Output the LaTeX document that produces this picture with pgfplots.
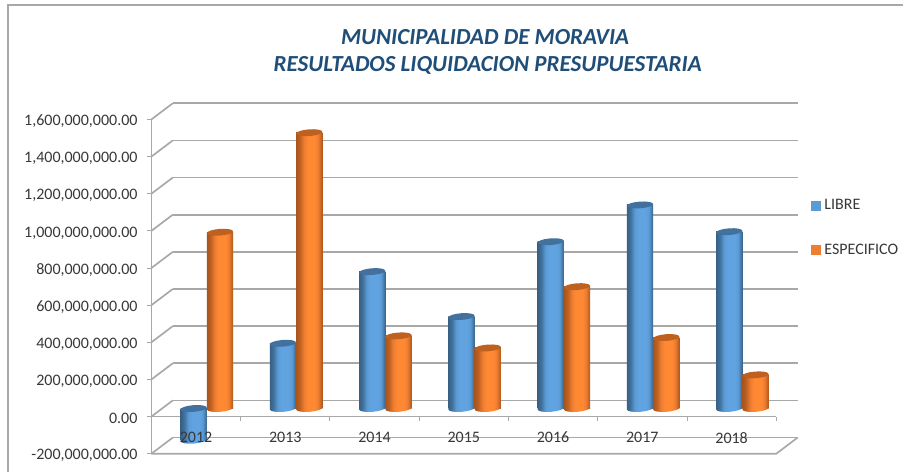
\documentclass[border=0pt]{standalone}
\usepackage{pgfplots}
\pgfplotsset{compat=1.18}
\usepackage{pgfplotstable}
\usepackage{fontspec}
\setmainfont{Carlito}
\definecolor{gridc}{HTML}{A8A8A8}
\definecolor{txt}{HTML}{383838}
\definecolor{titlec}{HTML}{1F4E79}
\definecolor{capB}{HTML}{41719C}
\definecolor{capO}{HTML}{BE6020}
\definecolor{legB}{HTML}{5B9BD5}
\definecolor{legO}{HTML}{ED7D31}
\definecolor{midO}{HTML}{FF8833}
\definecolor{midB}{HTML}{60A3E0}
\pgfdeclarehorizontalshading{cylB}{100bp}{color(0bp)=(capB!85!black);color(25bp)=(capB!85!black);color(32bp)=(capB);color(40bp)=(legB);color(47bp)=(midB);color(61bp)=(midB);color(67bp)=(legB);color(75bp)=(capB!88!black);color(100bp)=(capB!88!black)}
\pgfdeclarehorizontalshading{cylO}{100bp}{color(0bp)=(capO!88!black);color(25bp)=(capO!88!black);color(32bp)=(capO);color(40bp)=(legO);color(47bp)=(midO);color(61bp)=(midO);color(67bp)=(legO);color(75bp)=(capO!92!black);color(100bp)=(capO!92!black)}
% cylinder ends: tilted ellipses, shifted to the centre of each bar
\newcommand{\capmark}[3]{\pgfdeclareplotmark{#1}{%
  \pgfpathellipse{\pgfqpoint{#2}{0pt}}{\pgfqpoint{9.82pt}{0.75pt}}{\pgfqpoint{-0.2pt}{2.5pt}}%
  \pgfsetfillcolor{#3}\pgfusepathqfill}}
\newcommand{\basemark}[3]{\pgfdeclareplotmark{#1}{%
  \pgfpathellipse{\pgfqpoint{#2}{0pt}}{\pgfqpoint{9.82pt}{0.75pt}}{\pgfqpoint{-0.2pt}{2.5pt}}%
  \pgfshadepath{#3}{0}\pgfusepath{discard}}}
\capmark{topB}{-9.86pt}{capB}
\capmark{topO}{9.86pt}{capO}
\basemark{baseB}{-9.86pt}{cylB}
\basemark{baseO}{9.86pt}{cylO}
\pgfplotstableread{
x libre especifico
0 -171000000 949000000
1 351000000 1485000000
2 737000000 391000000
3 495000000 326000000
4 898000000 656000000
5 1096000000 382000000
6 952000000 181000000
}\data
\pgfplotsset{common/.style={scale only axis,width=468.9pt,height=250.875pt,
  xmin=-0.5,xmax=6.5,ymin=-200000000,ymax=1600000000,clip=false,anchor=south west,
  ytick={-200000000,0,200000000,400000000,600000000,800000000,1000000000,1200000000,1400000000,1600000000},
  scaled y ticks=false},
  gl/.style={color=gridc,line width=1.25pt},
  cb/.style={ybar,bar width=19.7pt,bar shift=-9.86pt,draw=none,shading=cylB,forget plot},
  co/.style={ybar,bar width=19.7pt,bar shift=9.86pt,draw=none,shading=cylO,forget plot}}
\begin{document}
\begin{tikzpicture}[x=1pt,y=1pt]
\path[fill=white] (0,0) rectangle (678,354);
\draw[color=gridc,line width=0.8pt] (6,0) -- (6,350.25) -- (678,350.25);
\node[font=\bfseries\itshape\fontsize{17.25}{19}\selectfont,text=titlec] at (364,326.2) {MUNICIPALIDAD DE MORAVIA};
\node[font=\bfseries\itshape\fontsize{17.25}{19}\selectfont,text=titlec] at (366,304.7) {RESULTADOS LIQUIDACION PRESUPUESTARIA};
% back wall
\begin{axis}[common,at={(129.75pt,25.65pt)},axis lines=none]
  \addplot[gl] coordinates {(-0.5,-200000000)(6.5,-200000000)};
  \addplot[gl] coordinates {(-0.5,0)(6.5,0)};
  \addplot[gl] coordinates {(-0.5,200000000)(6.5,200000000)};
  \addplot[gl] coordinates {(-0.5,400000000)(6.5,400000000)};
  \addplot[gl] coordinates {(-0.5,600000000)(6.5,600000000)};
  \addplot[gl] coordinates {(-0.5,800000000)(6.5,800000000)};
  \addplot[gl] coordinates {(-0.5,1000000000)(6.5,1000000000)};
  \addplot[gl] coordinates {(-0.5,1200000000)(6.5,1200000000)};
  \addplot[gl] coordinates {(-0.5,1400000000)(6.5,1400000000)};
  \addplot[gl] coordinates {(-0.5,1600000000)(6.5,1600000000)};
\end{axis}
% front frame: value axis, category axis, side wall and floor
\begin{axis}[common,at={(113.625pt,13.5pt)},
  axis y line=left,axis x line=middle,axis line style={-,color=gridc,line width=1.25pt},
  xtick={-0.5,0.5,1.5,2.5,3.5,4.5,5.5,6.5},xticklabels={},yticklabels={},
  tick style={color=gridc,line width=0.7pt},tick align=outside,major tick length=3.5pt]
  \addplot[gl] coordinates {(-0.5,-200000000)(6.5,-200000000)(6.74,-112800000)};
  \addplot[gl] coordinates {(-0.5,-200000000)(-0.26,-112800000)};
  \addplot[gl] coordinates {(-0.5,0)(-0.26,87200000)};
  \addplot[gl] coordinates {(-0.5,200000000)(-0.26,287200000)};
  \addplot[gl] coordinates {(-0.5,400000000)(-0.26,487200000)};
  \addplot[gl] coordinates {(-0.5,600000000)(-0.26,687200000)};
  \addplot[gl] coordinates {(-0.5,800000000)(-0.26,887200000)};
  \addplot[gl] coordinates {(-0.5,1000000000)(-0.26,1087200000)};
  \addplot[gl] coordinates {(-0.5,1200000000)(-0.26,1287200000)};
  \addplot[gl] coordinates {(-0.5,1400000000)(-0.26,1487200000)};
  \addplot[gl] coordinates {(-0.5,1600000000)(-0.26,1687200000)};
\end{axis}
% cylinders, on the plane half way into the depth; one plot per bar, so that each is shaded across itself
\begin{axis}[common,at={(121.6875pt,19.575pt)},axis lines=none]
  \addplot[only marks,mark=baseB] table[x=x,y expr={min(\thisrow{libre},0)}] {\data};
  \addplot[cb] coordinates {(0,-171000000)};
  \addplot[cb] coordinates {(1,351000000)};
  \addplot[cb] coordinates {(2,737000000)};
  \addplot[cb] coordinates {(3,495000000)};
  \addplot[cb] coordinates {(4,898000000)};
  \addplot[cb] coordinates {(5,1096000000)};
  \addplot[cb] coordinates {(6,952000000)};
  \addplot[only marks,mark=topB] table[x=x,y expr={max(\thisrow{libre},0)}] {\data};
  \addplot[only marks,mark=baseO] table[x=x,y expr={min(\thisrow{especifico},0)}] {\data};
  \addplot[co] coordinates {(0,949000000)};
  \addplot[co] coordinates {(1,1485000000)};
  \addplot[co] coordinates {(2,391000000)};
  \addplot[co] coordinates {(3,326000000)};
  \addplot[co] coordinates {(4,656000000)};
  \addplot[co] coordinates {(5,382000000)};
  \addplot[co] coordinates {(6,181000000)};
  \addplot[only marks,mark=topO] table[x=x,y expr={max(\thisrow{especifico},0)}] {\data};
\end{axis}
% tick labels and legend, on top of the bars
\begin{axis}[common,at={(113.625pt,13.5pt)},
  axis y line=left,axis x line=middle,axis line style={draw=none},tick style={draw=none},
  xtick={0,1,2,3,4,5,6},xticklabels={2012,2013,2014,2015,2016,2017,2018},
  xticklabel style={yshift=-6pt,text=txt,font=\fontsize{12}{14}\selectfont},
  yticklabel style={yshift=-1.5pt,text=txt,font=\fontsize{12}{14}\selectfont,
    /pgf/number format/.cd,fixed,fixed zerofill,precision=2,1000 sep={,},assume math mode=true},
  yticklabel shift=4.8pt,
  legend style={at={(1.0549,0.6756)},anchor=west,draw=none,fill=none,inner sep=0pt,
    font=\fontsize{12}{14}\selectfont,text=txt,row sep=24.25pt,
    nodes={inner sep=0pt,anchor=west},column sep=3pt},
  legend cell align=left]
  \addlegendimage{legend image code/.code={\fill[legB] (0pt,-3.4pt) rectangle (6.8pt,3.4pt);}}
  \addlegendentry{LIBRE}
  \addlegendimage{legend image code/.code={\fill[legO] (0pt,-3.4pt) rectangle (6.8pt,3.4pt);}}
  \addlegendentry{ESPECIFICO}
\end{axis}
\end{tikzpicture}
\end{document}
